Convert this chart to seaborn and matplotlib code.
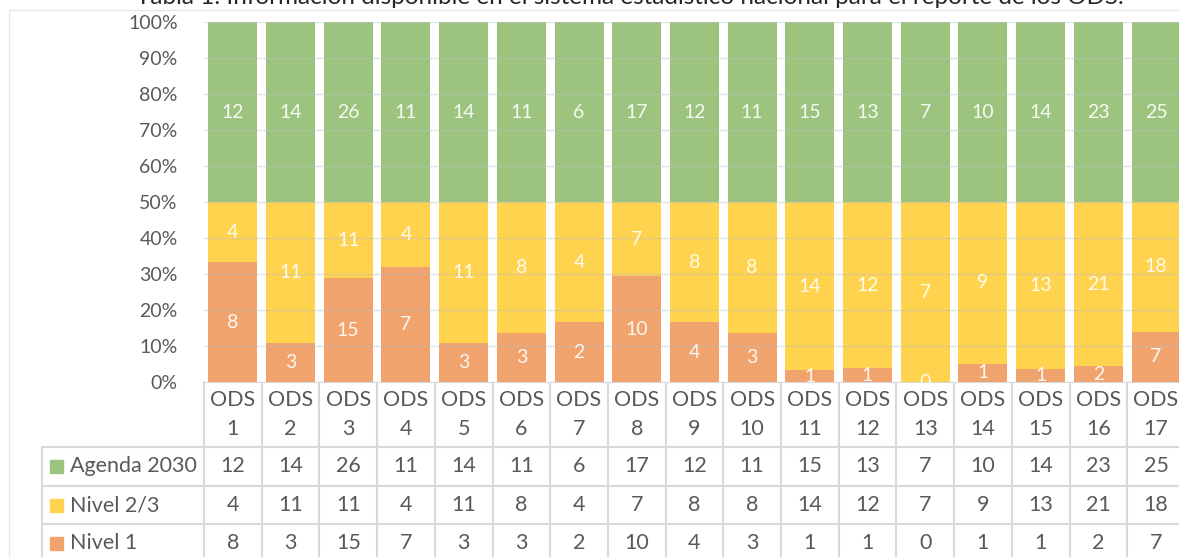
import pandas as pd
import seaborn as sns
import numpy as np
import matplotlib.pyplot as plt

# data
ods = ["ODS 1", "ODS 2", "ODS 3", "ODS 4", "ODS 5", "ODS 6", "ODS 7", "ODS 8", "ODS 9",
       "ODS 10", "ODS 11", "ODS 12", "ODS 13", "ODS 14", "ODS 15", "ODS 16", "ODS 17"]
agenda = [12, 14, 26, 11, 14, 11, 6, 17, 12, 11, 15, 13, 7, 10, 14, 23, 25]
nivel23 = [4, 11, 11, 4, 11, 8, 4, 7, 8, 8, 14, 12, 7, 9, 13, 21, 18]
nivel1 = [8, 3, 15, 7, 3, 3, 2, 10, 4, 3, 1, 1, 0, 1, 1, 2, 7]
series = ["Agenda 2030", "Nivel 2/3", "Nivel 1"]
colors = {"Agenda 2030": "#9CC47F", "Nivel 2/3": "#FFD34E", "Nivel 1": "#F0A36D"}
title = "Tabla 1. Información disponible en el sistema estadístico nacional para el reporte de los ODS."

df = pd.DataFrame({"ods": ods, "Agenda 2030": agenda, "Nivel 2/3": nivel23, "Nivel 1": nivel1})
total = df[series].sum(axis=1)
df["p1"] = df["Nivel 1"] / total * 100
df["p2"] = (df["Nivel 1"] + df["Nivel 2/3"]) / total * 100
df["p3"] = 100.0

sns.set_style("white")
plt.rcParams["font.family"] = ["Lato", "DejaVu Sans"]
grey = "#595959"
W, H = 1179, 557
fig = plt.figure(figsize=(W / 100, H / 100), dpi=100)

# layout in pixels
x0 = 204
pitch = 57.7
y_top, y_bot = 22, 382
ax = fig.add_axes([x0 / W, (H - y_bot) / H, 17 * pitch / W, (y_bot - y_top) / H])

# overlay for border, title and table
ov = fig.add_axes([0, 0, 1, 1], zorder=-1)
ov.set_xlim(0, W)
ov.set_ylim(H, 0)
ov.axis("off")
ov.add_patch(plt.Rectangle((9, 10), W, H, fill=False, ec="#e6e6e6", lw=1))
fig.text(630 / W, 1 - 4 / H, title, ha="center", va="baseline", fontsize=17.5, color="#262626")

# stacked bars (drawn back to front)
for col, s in [("p3", "Agenda 2030"), ("p2", "Nivel 2/3"), ("p1", "Nivel 1")]:
    sns.barplot(data=df, x="ods", y=col, color=colors[s], width=0.85, errorbar=None,
                saturation=1, linewidth=0, ax=ax, zorder=1)

# labels centred in each segment
for i in range(len(ods)):
    segs = [(0, df["p1"][i], nivel1[i]),
            (df["p1"][i], df["p2"][i], nivel23[i]),
            (df["p2"][i], 100, agenda[i])]
    for lo, hi, v in segs:
        ax.text(i, (lo + hi) / 2, str(v), ha="center", va="center", fontsize=14,
                color="white", alpha=0.9, zorder=3)

ax.set_xlim(-0.5, 16.5)
ax.set_ylim(0, 100)
ax.set_yticks(np.arange(0, 101, 10))
ax.set_yticklabels([f"{t}%" for t in range(0, 101, 10)])
ax.yaxis.grid(True, color="#bfbfbf", lw=1, alpha=0.45, zorder=2)
ax.set_axisbelow(False)
ax.tick_params(axis="y", length=0, pad=19, labelsize=14, labelcolor=grey)
ax.set_xticks([])
ax.set_xlabel("")
ax.set_ylabel("")
for sp in ax.spines.values():
    sp.set_visible(False)

# data table under the chart
lc = "#d9d9d9"
rows_y = [382, 447, 486, 524, 562]
x_end = x0 + 17 * pitch
ov.plot([x0, x_end], [rows_y[0], rows_y[0]], color=lc, lw=1.5)
for y in rows_y[1:]:
    ov.plot([42, x_end], [y, y], color=lc, lw=1.5)
ov.plot([42, 42], [rows_y[1], H], color=lc, lw=1.5)
for i in range(18):
    xx = x0 + i * pitch
    ov.plot([xx, xx], [rows_y[0], H], color=lc, lw=1.5)

fs = 15.5
for i, name in enumerate(ods):
    xc = x0 + (i + 0.5) * pitch
    a, b = name.split(" ")
    ov.text(xc, 400, a, ha="center", va="center", fontsize=fs, color=grey)
    ov.text(xc, 429, b, ha="center", va="center", fontsize=fs, color=grey)

vals = {"Agenda 2030": agenda, "Nivel 2/3": nivel23, "Nivel 1": nivel1}
for r, s in enumerate(series):
    yc = (rows_y[r + 1] + rows_y[r + 2]) / 2
    ov.add_patch(plt.Rectangle((50, yc - 6.5), 13, 13, color=colors[s]))
    ov.text(70, yc, s, ha="left", va="center", fontsize=fs, color=grey)
    for i, v in enumerate(vals[s]):
        ov.text(x0 + (i + 0.5) * pitch, yc, str(v), ha="center", va="center",
                fontsize=fs, color=grey)

fig.savefig("out.png", dpi=100)
